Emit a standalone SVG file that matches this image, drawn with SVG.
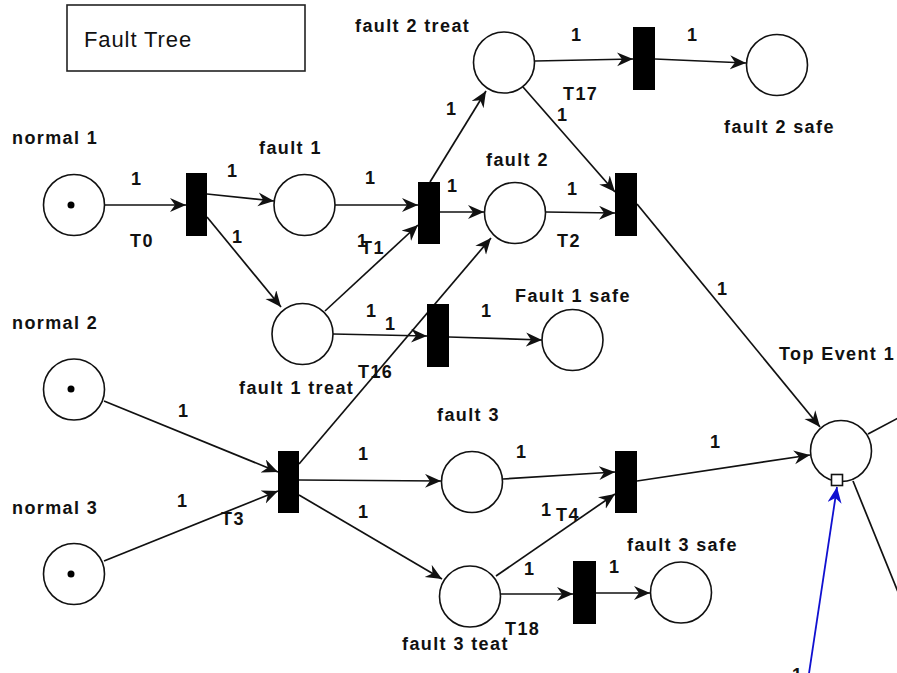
<svg xmlns="http://www.w3.org/2000/svg" width="897" height="673" viewBox="0 0 897 673">
<style>
.pl{fill:#fff;stroke:#111;stroke-width:1.6}
.tr{fill:#000;stroke:none}
.tok{fill:#000}
.ar{fill:none;stroke:#111;stroke-width:1.7;marker-end:url(#arr)}
.ln{fill:none;stroke:#111;stroke-width:1.7}
.bl{fill:none;stroke:#1010d0;stroke-width:1.8;marker-end:url(#arrb)}
.t{font-family:"Liberation Sans",Arial,sans-serif;font-weight:bold;font-size:18px;letter-spacing:1.4px;fill:#111}
.w{font-family:"Liberation Sans",Arial,sans-serif;font-weight:bold;font-size:18px;fill:#111}
.ti{font-family:"Liberation Sans",Arial,sans-serif;font-size:22px;letter-spacing:0.9px;fill:#111}
</style>
<defs>
<marker id="arr" markerUnits="userSpaceOnUse" markerWidth="18" markerHeight="16" refX="16" refY="7" orient="auto"><path d="M0,0 L16,7 L0,14 L5,7 Z" fill="#111"/></marker>
<marker id="arrb" markerUnits="userSpaceOnUse" markerWidth="18" markerHeight="16" refX="16" refY="7" orient="auto"><path d="M0,0 L16,7 L0,14 L5,7 Z" fill="#1010d0"/></marker>
</defs>
<rect width="897" height="673" fill="#fff"/>
<g id="title">
<rect x="67" y="5" width="238" height="66" fill="#fff" stroke="#222" stroke-width="1.6"/>
<text class="ti" x="84" y="47">Fault Tree</text>
</g>
<g id="connectors">
<line class="ar" x1="105" y1="205" x2="186" y2="205"/>
<line class="ar" x1="207" y1="194" x2="274" y2="201"/>
<line class="ar" x1="207" y1="217" x2="281" y2="307"/>
<line class="ar" x1="335" y1="205" x2="418" y2="205"/>
<line class="ar" x1="325" y1="311" x2="418" y2="225"/>
<line class="ar" x1="430" y1="182" x2="486" y2="91"/>
<line class="ar" x1="440" y1="212" x2="484" y2="212"/>
<line class="ar" x1="333" y1="334" x2="427" y2="336"/>
<line class="ar" x1="299" y1="464" x2="491" y2="238"/>
<line class="ar" x1="449" y1="337" x2="542" y2="340"/>
<line class="ar" x1="535" y1="61" x2="633" y2="59"/>
<line class="ar" x1="655" y1="59" x2="746" y2="63"/>
<line class="ar" x1="523" y1="87" x2="615" y2="192"/>
<line class="ar" x1="546" y1="212" x2="615" y2="213"/>
<line class="ar" x1="637" y1="204" x2="820" y2="427"/>
<line class="ar" x1="104" y1="401" x2="278" y2="472"/>
<line class="ar" x1="104" y1="561" x2="278" y2="491"/>
<line class="ar" x1="299" y1="480" x2="441" y2="481"/>
<line class="ar" x1="299" y1="495" x2="442" y2="579"/>
<line class="ar" x1="503" y1="479" x2="615" y2="472"/>
<line class="ar" x1="496" y1="576" x2="615" y2="494"/>
<line class="ar" x1="637" y1="481" x2="810" y2="455"/>
<line class="ar" x1="501" y1="594" x2="573" y2="594"/>
<line class="ar" x1="596" y1="593" x2="650" y2="593"/>
<line class="ln" x1="868" y1="434" x2="900" y2="417"/>
<line class="ln" x1="853" y1="481" x2="900" y2="597"/>
<line class="bl" x1="808" y1="680" x2="837" y2="487"/>
</g>
<g id="normal1"><circle class="pl" cx="74" cy="205" r="30.5"/><circle class="tok" cx="71" cy="205" r="3.5"/><text class="t" x="12" y="144">normal 1</text></g>
<g id="normal2"><circle class="pl" cx="74" cy="389.5" r="30.5"/><circle class="tok" cx="71" cy="389" r="3.5"/><text class="t" x="12" y="329">normal 2</text></g>
<g id="normal3"><circle class="pl" cx="74" cy="574" r="30.5"/><circle class="tok" cx="71" cy="574" r="3.5"/><text class="t" x="12" y="514">normal 3</text></g>
<g id="fault1"><circle class="pl" cx="304.5" cy="205" r="30.5"/><text class="t" x="259" y="154">fault 1</text></g>
<g id="fault1treat"><circle class="pl" cx="302.5" cy="334" r="30.5"/><text class="t" x="239" y="394">fault 1 treat</text></g>
<g id="fault2treat"><circle class="pl" cx="504" cy="62.5" r="30.5"/><text class="t" x="355" y="32">fault 2 treat</text></g>
<g id="fault2"><circle class="pl" cx="515" cy="213" r="30.5"/><text class="t" x="486" y="166">fault 2</text></g>
<g id="fault2safe"><circle class="pl" cx="777" cy="65" r="30.5"/><text class="t" x="724" y="133">fault 2 safe</text></g>
<g id="fault1safe"><circle class="pl" cx="572.5" cy="340" r="30.5"/><text class="t" x="515" y="302">Fault 1 safe</text></g>
<g id="topevent1"><circle class="pl" cx="841" cy="451" r="30.5"/><rect x="831.5" y="474.5" width="11" height="11" fill="#fff" stroke="#111" stroke-width="1.6"/><text class="t" x="779" y="360">Top Event 1</text></g>
<g id="fault3"><circle class="pl" cx="472" cy="482" r="30.5"/><text class="t" x="437" y="421">fault 3</text></g>
<g id="fault3teat"><circle class="pl" cx="470" cy="596.5" r="30.5"/><text class="t" x="402" y="650">fault 3 teat</text></g>
<g id="fault3safe"><circle class="pl" cx="681" cy="592.5" r="30.5"/><text class="t" x="627" y="551">fault 3 safe</text></g>
<g id="T0"><rect class="tr" x="186" y="173" width="21" height="63"/><text class="t" x="130" y="247">T0</text></g>
<g id="T1"><rect class="tr" x="418" y="182" width="22" height="62"/><text class="t" x="361" y="254">T1</text></g>
<g id="T2"><rect class="tr" x="615" y="173" width="22" height="63"/><text class="t" x="557" y="247">T2</text></g>
<g id="T17"><rect class="tr" x="633" y="27" width="22" height="63"/><text class="t" x="563" y="100">T17</text></g>
<g id="T16"><rect class="tr" x="427" y="304" width="22" height="63"/><text class="t" x="358" y="378">T16</text></g>
<g id="T3"><rect class="tr" x="278" y="451" width="21" height="62"/><text class="t" x="221" y="525">T3</text></g>
<g id="T4"><rect class="tr" x="615" y="451" width="22" height="62"/><text class="t" x="556" y="521">T4</text></g>
<g id="T18"><rect class="tr" x="573" y="561" width="23" height="63"/><text class="t" x="505" y="635">T18</text></g>
<g id="weights">
<text class="w" x="131" y="185">1</text>
<text class="w" x="227" y="177">1</text>
<text class="w" x="232" y="243">1</text>
<text class="w" x="365" y="184">1</text>
<text class="w" x="447" y="192">1</text>
<text class="w" x="446" y="115">1</text>
<text class="w" x="357" y="247">1</text>
<text class="w" x="366" y="317">1</text>
<text class="w" x="385" y="330">1</text>
<text class="w" x="481" y="317">1</text>
<text class="w" x="571" y="41">1</text>
<text class="w" x="687" y="41">1</text>
<text class="w" x="557" y="121">1</text>
<text class="w" x="567" y="195">1</text>
<text class="w" x="717" y="295">1</text>
<text class="w" x="178" y="417">1</text>
<text class="w" x="177" y="507">1</text>
<text class="w" x="358" y="460">1</text>
<text class="w" x="358" y="518">1</text>
<text class="w" x="516" y="458">1</text>
<text class="w" x="710" y="448">1</text>
<text class="w" x="541" y="516">1</text>
<text class="w" x="524" y="575">1</text>
<text class="w" x="609" y="573">1</text>
<text class="w" x="792" y="681">1</text>
</g>
</svg>
